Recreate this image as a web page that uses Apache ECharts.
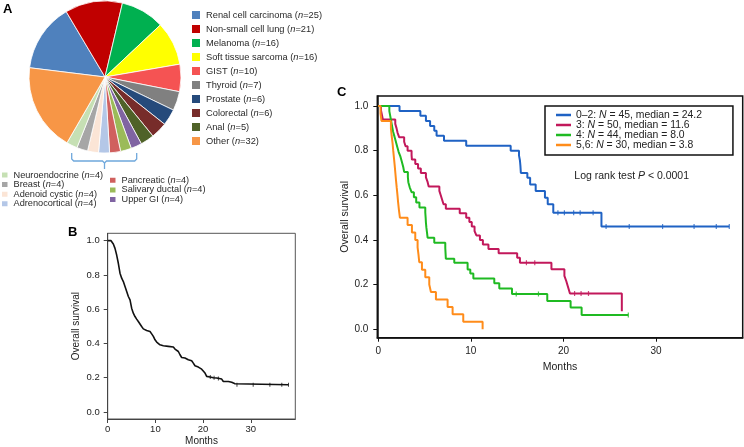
<!DOCTYPE html>
<html><head><meta charset="utf-8">
<script src="https://cdn.jsdelivr.net/npm/echarts@6/dist/echarts.min.js"></script>
<style>html,body{margin:0;padding:0;background:#fff}#c{width:744px;height:447px}</style>
</head><body><div id="c"></div>
<script>
// ---------- Panel A: pie ----------
const pieNames = ['Renal cell carcinoma','Non-small cell lung','Melanoma','Soft tissue sarcoma','GIST','Thyroid','Prostate','Colorectal','Anal','Upper GI','Salivary ductal','Pancreatic','Adrenocortical','Adenoid cystic','Breast','Neuroendocrine','Other'];
const pieCounts = [25,21,16,16,10,7,6,6,5,4,4,4,4,4,4,4,32];
const pieColors = ['#4f81bd','#c00000','#00b050','#ffff00','#f55353','#808080','#254a7b','#772c2a','#4f6228','#8064a2','#9bbb59','#d0605e','#b4c7e7','#fbe5d6','#a6a6a6','#c6e0b4','#f79646'];
const legendMain = ['Renal cell carcinoma','Non-small cell lung','Melanoma','Soft tissue sarcoma','GIST','Thyroid','Prostate','Colorectal','Anal','Other'];
const legendSmallA = ['Neuroendocrine','Breast','Adenoid cystic','Adrenocortical'];
const legendSmallB = ['Pancreatic','Salivary ductal','Upper GI'];

// ---------- Panel B: overall survival ----------
const bMonths = [0,0.7,0.83,1.18,1.53,1.88,2.23,2.58,2.93,3.28,3.63,3.98,4.33,4.68,5.02,5.37,5.72,6.07,6.42,7.12,7.47,8.17,8.87,9.22,9.57,9.92,10.27,10.96,11.66,12.71,13.76,14.11,14.46,14.81,15.16,15.51,16.2,16.9,17.6,17.95,18.3,19.0,19.7,20.4,20.75,21.45,22.15,22.85,23.9,24.24,25.3,26.0,26.7,27.05,37.9];
const bSurv = [1.0,1.0,0.994,0.981,0.955,0.916,0.868,0.81,0.781,0.761,0.732,0.703,0.674,0.654,0.606,0.577,0.557,0.542,0.528,0.499,0.485,0.476,0.47,0.456,0.441,0.421,0.408,0.392,0.387,0.383,0.379,0.367,0.359,0.353,0.334,0.318,0.315,0.305,0.299,0.285,0.27,0.262,0.25,0.227,0.208,0.204,0.2,0.198,0.192,0.178,0.178,0.173,0.165,0.159,0.159];
const bCensor = [21.5,22.3,23.2,27.1,30.5,34.0,36.5,37.9];

// ---------- Panel C: survival by group ----------
const groupLabels = ['0–2','3','4','5,6'];
const groupN = [45,50,44,30];
const groupMedian = ['24.2','11.6','8.0','3.8'];
const groupColors = ['#1f62c4','#c2185b','#1fba22','#ff8c1a'];

const blueT = [0,2.3,4.55,5.15,5.6,6.05,6.3,7.1,9.5,14.3,15.2,15.3,15.35,15.4,16.1,16.4,17.0,18.0,18.3,18.9,24.1,37.9];
const blueS = [1.0,0.978,0.956,0.933,0.911,0.889,0.867,0.844,0.822,0.8,0.778,0.756,0.733,0.70,0.679,0.649,0.619,0.589,0.56,0.522,0.46,0.46];
const blueCensor = [19.4,20.1,21.1,21.8,23.2,24.6,27.1,30.7,34.1,36.5,37.9];

const redT = [0,0.3,0.4,0.5,1.84,1.98,2.09,2.27,2.8,2.95,3.17,3.6,3.64,4.0,4.3,4.6,5.15,5.33,5.45,6.6,6.75,6.9,7.05,7.3,8.8,9.5,9.84,10.1,10.4,10.6,10.98,11.3,11.9,13.0,15.0,15.3,18.7,20.1,20.3,20.5,20.7,26.3];
const redS = [1.0,0.98,0.96,0.94,0.92,0.90,0.88,0.86,0.84,0.82,0.80,0.78,0.76,0.74,0.72,0.70,0.68,0.66,0.64,0.62,0.60,0.58,0.56,0.54,0.52,0.50,0.48,0.46,0.44,0.42,0.40,0.38,0.36,0.34,0.32,0.298,0.269,0.239,0.216,0.188,0.16,0.08];
const redCensor = [16.0,16.9,21.2,21.9,22.7];

const greenT = [0,1.2,1.3,1.4,1.5,1.6,1.75,1.9,2.05,2.2,2.4,2.55,2.7,2.8,3.2,3.25,3.4,3.6,3.85,4.1,4.45,5.08,5.12,5.15,5.2,5.27,5.33,6.05,7.24,7.27,7.3,8.21,9.65,9.94,10.27,12.53,13.07,14.44,18.25,20.77,21.96,27.0];
const greenS = [1.0,0.977,0.955,0.932,0.909,0.886,0.864,0.841,0.818,0.795,0.773,0.75,0.727,0.705,0.682,0.659,0.636,0.614,0.591,0.568,0.545,0.523,0.50,0.477,0.455,0.432,0.41,0.388,0.364,0.341,0.316,0.298,0.268,0.25,0.227,0.206,0.182,0.158,0.127,0.097,0.064,0.064];
const greenCensor = [14.9,17.3,27.0];

const orangeT = [0,0.25,0.35,1.37,1.45,1.55,1.62,1.7,1.78,1.85,1.92,2.0,2.08,2.15,2.24,2.34,3.17,3.64,4.0,4.25,4.35,4.43,4.72,5.08,5.51,5.69,6.23,7.49,8.03,9.18,11.27];
const orangeS = [1.0,0.967,0.933,0.9,0.867,0.833,0.8,0.767,0.733,0.7,0.667,0.633,0.6,0.567,0.533,0.5,0.467,0.433,0.4,0.367,0.333,0.3,0.267,0.233,0.2,0.167,0.133,0.1,0.067,0.033,0.0];
const orangeCensor = [];

const yTicks = [0,0.2,0.4,0.6,0.8,1.0];
const xTicks = [0,10,20,30];

const FF = '"Liberation Sans", Arial, Helvetica, sans-serif';
const zip = (T,S) => T.map((t,i)=>[t,S[i]]);
function stepAt(T,S,t){let v=S[0];for(let i=0;i<T.length;i++){if(T[i]<=t)v=S[i];}return v;}
function linAt(T,S,t){for(let i=1;i<T.length;i++){if(T[i]>=t){const f=(t-T[i-1])/(T[i]-T[i-1]||1);return S[i-1]+f*(S[i]-S[i-1]);}}return S[S.length-1];}

const chart = echarts.init(document.getElementById('c'));

const countOf = {};
pieNames.forEach((n,i)=>countOf[n]=pieCounts[i]);
function pieLegend(data, left, top, iw, ih, fs, lh) {
  return {
    data: data, orient:'vertical', left:left, top:top, padding:0, itemGap:0,
    itemWidth: iw, itemHeight: ih, icon:'rect', selectedMode:false,
    formatter: n => `{t|${n} (}{i|n}{t|=${countOf[n]})}`,
    textStyle: { fontFamily:FF, fontSize:fs, lineHeight:lh, color:'#2a2a2a',
      rich:{ t:{fontFamily:FF,fontSize:fs,lineHeight:lh,color:'#2a2a2a'}, i:{fontFamily:FF,fontSize:fs,lineHeight:lh,fontStyle:'italic',color:'#2a2a2a'} } }
  };
}
const legMain = pieLegend(legendMain, 190, 8, 10, 10, 9.3, 14);
const legA = pieLegend(legendSmallA, 0, 170.2, 7.5, 7, 9.2, 9.6);
const legB = pieLegend(legendSmallB, 108, 175.5, 7.5, 7, 9.2, 9.6);

const legC = {
  data: groupLabels, orient:'vertical', left:545, top:106, itemGap:0,
  padding:[4,31,5,11], borderColor:'#111', borderWidth:1.5,
  itemWidth:15, itemHeight:2.5, icon:'rect', selectedMode:false,
  formatter: n => { const i = groupLabels.indexOf(n); return `{a|${n}: }{i|N}{a| = ${groupN[i]}, median = ${groupMedian[i]}}`; },
  textStyle:{ fontFamily:FF, fontSize:10.4, lineHeight:9.5, color:'#222',
    rich:{ a:{fontFamily:FF,fontSize:10.4,lineHeight:9.5,color:'#222'}, i:{fontFamily:FF,fontSize:10.4,lineHeight:9.5,fontStyle:'italic',color:'#222'} } }
};

function xAx(gi, min, max, col, lw, margin, gap, fs) {
  return { gridIndex:gi, type:'value', min:min, max:max,
    axisLine:{show:true, onZero:false, lineStyle:{color:col, width:lw}},
    axisTick:{show:true, length:4, customValues:xTicks, lineStyle:{color:col, width:1}},
    axisLabel:{customValues:xTicks, margin:margin, fontFamily:FF, fontSize:fs, color:'#222'},
    splitLine:{show:false},
    name:'Months', nameLocation:'middle', nameGap:gap, nameTextStyle:{fontFamily:FF, fontSize:fs+0.5, color:'#222'} };
}
function yAx(gi, min, max, col, lw, margin, gap, fs) {
  return { gridIndex:gi, type:'value', min:min, max:max,
    axisLine:{show:true, onZero:false, lineStyle:{color:col, width:lw}},
    axisTick:{show:true, length:4, customValues:yTicks, lineStyle:{color:col, width:1}},
    axisLabel:{customValues:yTicks, margin:margin, fontFamily:FF, fontSize:fs, color:'#222', formatter:v=>v.toFixed(1)},
    splitLine:{show:false},
    name:'Overall survival', nameLocation:'middle', nameGap:gap, nameRotate:90, nameTextStyle:{fontFamily:FF, fontSize:fs+0.5, color:'#222'} };
}

const kmSets = [[blueT,blueS,blueCensor],[redT,redS,redCensor],[greenT,greenS,greenCensor],[orangeT,orangeS,orangeCensor]];
const series = [];
series.push({ type:'pie', center:[105,77], radius:76, startAngle:173, clockwise:true,
  label:{show:false}, labelLine:{show:false}, silent:true,
  itemStyle:{borderColor:'#fff', borderWidth:0.8},
  data: pieNames.map((n,i)=>({name:n, value:pieCounts[i], itemStyle:{color:pieColors[i]}})) });
series.push({ type:'line', xAxisIndex:0, yAxisIndex:0, data:zip(bMonths,bSurv), symbol:'none',
  lineStyle:{color:'#111', width:1.6}, silent:true });
series.push({ type:'scatter', xAxisIndex:0, yAxisIndex:0, data:bCensor.map(t=>[t,linAt(bMonths,bSurv,t)]),
  symbol:'rect', symbolSize:[1,4], itemStyle:{color:'#111'}, silent:true });
kmSets.forEach((s,k)=>{
  series.push({ type:'line', name:groupLabels[k], xAxisIndex:1, yAxisIndex:1, data:zip(s[0],s[1]), step:'end',
    symbol:'none', color:groupColors[k], lineStyle:{color:groupColors[k], width:2}, silent:true });
  series.push({ type:'scatter', name:'c'+k, xAxisIndex:1, yAxisIndex:1, data:s[2].map(t=>[t,stepAt(s[0],s[1],t)]),
    symbol:'rect', symbolSize:[1.2,5], itemStyle:{color:groupColors[k]}, silent:true });
});

chart.setOption({
  animation:false, backgroundColor:'#fff',
  legend:[legMain, legA, legB, legC],
  grid:[
    {left:107.7, top:233.3, width:187.6, height:186, show:true, borderColor:'#555', borderWidth:1},
    {left:377.3, top:96, width:365.4, height:241.7, show:true, borderColor:'#111', borderWidth:1.5}
  ],
  xAxis:[ xAx(0,0,39.33,'#444',1,5,17,9.5), xAx(1,-0.1,39.35,'#111',1.5,9,24,10) ],
  yAxis:[ yAx(0,-0.041,1.043,'#444',1,8,26,9.5), yAx(1,-0.038,1.045,'#111',1.5,9,25,10) ],
  graphic:[
    {type:'text', left:3, top:3, style:{text:'A', font:'bold 13px '+FF, fill:'#000'}},
    {type:'text', left:68, top:226, style:{text:'B', font:'bold 13px '+FF, fill:'#000'}},
    {type:'text', left:337, top:86, style:{text:'C', font:'bold 13px '+FF, fill:'#000'}},
    {type:'text', x:631.7, y:176, style:{text:'{a|Log rank test }{i|P}{a| < 0.0001}', align:'center', verticalAlign:'middle',
      rich:{a:{fontFamily:FF,fontSize:10.5,fill:'#222'}, i:{fontFamily:FF,fontSize:10.5,fontStyle:'italic',fill:'#222'}}}},
    {type:'polyline', shape:{points:[[71.7,153],[71.7,159],[73.7,161],[102.5,161],[104.5,163],[104.5,169]]}, style:{stroke:'#6fa8dc', lineWidth:1.3, fill:null}},
    {type:'polyline', shape:{points:[[136.7,153],[136.7,159],[134.7,161],[106.5,161],[104.5,163]]}, style:{stroke:'#6fa8dc', lineWidth:1.3, fill:null}}
  ],
  series: series
});
</script></body></html>
